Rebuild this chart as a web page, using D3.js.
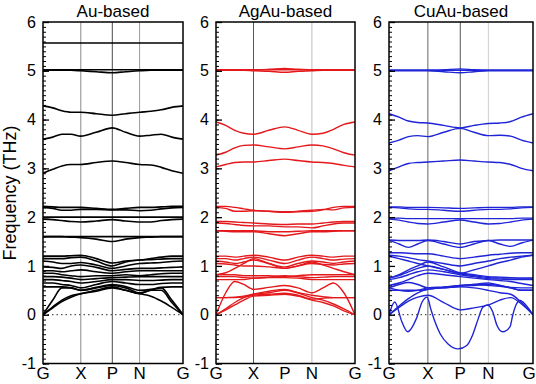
<!DOCTYPE html>
<html>
<head>
<meta charset="utf-8">
<script src="https://cdn.jsdelivr.net/npm/d3@7"></script>
<style>
  body { margin: 0; background: #fff; }
  svg { display: block; font-family: "Liberation Sans", Arial, sans-serif; }
</style>
</head>
<body>
<div id="chart"></div>
<script>
// k-path sample points (fraction of path G-X-P-N-G)
const kPath = [0, 0.07, 0.135, 0.2, 0.27, 0.38, 0.495, 0.59, 0.69, 0.77, 0.845, 0.92, 1];
const symLabels = ['G', 'X', 'P', 'N', 'G'];
const symK = [0, 0.27, 0.495, 0.69, 1];
const yTicks = [-1, 0, 1, 2, 3, 4, 5, 6];
const titles = ['Au-based', 'AgAu-based', 'CuAu-based'];

// phonon bands (THz) at kPath points
const auBands = [
  [5.57,5.57,5.57,5.57,5.57,5.57,5.57,5.57,5.57,5.57,5.57,5.57,5.57],
  [5.02,5.02,5.02,5.02,5.02,5.02,5.02,5.02,5.02,5.02,5.02,5.02,5.02],
  [5.01,5.01,5.01,5.01,5.0,4.98,4.96,4.98,5.0,5.01,5.01,5.01,5.01],
  [4.28,4.24,4.18,4.15,4.15,4.12,4.09,4.12,4.15,4.17,4.2,4.25,4.28],
  [3.6,3.64,3.7,3.7,3.66,3.74,3.83,3.74,3.66,3.68,3.7,3.64,3.6],
  [2.9,2.98,3.05,3.08,3.08,3.12,3.15,3.12,3.08,3.07,3.02,2.95,2.9],
  [2.22,2.21,2.2,2.2,2.2,2.18,2.16,2.18,2.2,2.2,2.21,2.22,2.22],
  [2.2,2.18,2.14,2.14,2.16,2.16,2.15,2.15,2.13,2.14,2.17,2.19,2.2],
  [2.0,2.0,2.0,2.0,2.0,2.0,2.0,2.0,2.0,2.0,2.0,2.0,2.0],
  [1.96,1.95,1.93,1.91,1.9,1.92,1.95,1.92,1.9,1.9,1.93,1.95,1.96],
  [1.6,1.6,1.6,1.6,1.6,1.6,1.6,1.6,1.6,1.6,1.6,1.6,1.6],
  [1.6,1.6,1.6,1.59,1.58,1.55,1.5,1.55,1.58,1.59,1.6,1.6,1.6],
  [1.2,1.2,1.2,1.21,1.22,1.15,1.06,1.1,1.12,1.15,1.18,1.2,1.2],
  [1.15,1.15,1.15,1.17,1.18,1.1,1.0,1.08,1.12,1.13,1.14,1.15,1.15],
  [1.1,1.08,1.05,1.05,1.07,1.02,0.95,1.0,1.05,1.06,1.07,1.09,1.1],
  [0.98,0.97,0.95,1.0,1.02,0.97,0.9,0.93,0.95,0.95,0.96,0.97,0.98],
  [0.9,0.9,0.88,0.9,0.92,0.88,0.85,0.88,0.9,0.9,0.9,0.9,0.9],
  [0.85,0.85,0.82,0.8,0.78,0.8,0.8,0.82,0.8,0.82,0.84,0.85,0.85],
  [0.78,0.78,0.77,0.75,0.72,0.74,0.76,0.77,0.78,0.78,0.78,0.78,0.78],
  [0.72,0.72,0.7,0.68,0.65,0.68,0.72,0.72,0.7,0.7,0.71,0.72,0.72],
  [0.65,0.65,0.62,0.6,0.55,0.62,0.68,0.65,0.62,0.62,0.64,0.65,0.65],
  [0.57,0.57,0.57,0.55,0.5,0.56,0.62,0.58,0.5,0.52,0.56,0.57,0.57],
  [0,0.3,0.55,0.55,0.5,0.55,0.6,0.55,0.45,0.5,0.55,0.3,0],
  [0,0.16,0.3,0.39,0.43,0.5,0.57,0.5,0.43,0.38,0.28,0.15,0],
  [0,0.14,0.27,0.36,0.43,0.48,0.55,0.5,0.43,0.5,0.5,0.25,0]
];

const agauBands = [
  [5.02,5.02,5.02,5.02,5.02,5.02,5.02,5.02,5.02,5.02,5.02,5.02,5.02],
  [5.02,5.02,5.02,5.02,5.02,5.03,5.05,5.03,5.02,5.02,5.02,5.02,5.02],
  [5.01,5.01,5.01,5.01,5.0,4.99,4.97,4.99,5.0,5.01,5.01,5.01,5.01],
  [3.95,3.88,3.78,3.72,3.7,3.78,3.85,3.78,3.7,3.72,3.8,3.9,3.95],
  [3.27,3.33,3.42,3.47,3.48,3.44,3.4,3.44,3.48,3.46,3.4,3.32,3.27],
  [3.03,3.08,3.12,3.13,3.13,3.16,3.19,3.16,3.13,3.12,3.1,3.06,3.03],
  [2.22,2.22,2.2,2.17,2.14,2.12,2.1,2.11,2.12,2.15,2.2,2.22,2.22],
  [2.2,2.18,2.12,2.12,2.13,2.12,2.11,2.12,2.14,2.16,2.15,2.19,2.2],
  [1.91,1.91,1.9,1.89,1.88,1.86,1.85,1.86,1.86,1.88,1.9,1.91,1.91],
  [1.88,1.87,1.85,1.83,1.82,1.82,1.8,1.8,1.78,1.82,1.86,1.88,1.88],
  [1.72,1.72,1.72,1.72,1.72,1.7,1.7,1.71,1.72,1.72,1.72,1.72,1.72],
  [1.72,1.71,1.7,1.7,1.7,1.66,1.62,1.66,1.7,1.7,1.71,1.72,1.72],
  [1.2,1.2,1.18,1.2,1.22,1.18,1.12,1.18,1.22,1.2,1.18,1.2,1.2],
  [1.15,1.15,1.12,1.15,1.18,1.12,1.05,1.12,1.18,1.15,1.12,1.14,1.15],
  [1.1,1.08,1.05,1.08,1.12,1.05,0.98,1.05,1.1,1.08,1.05,1.08,1.1],
  [1.05,1.04,1.02,1.0,1.0,0.98,0.95,1.0,1.05,1.03,1.02,1.04,1.05],
  [0.82,0.86,0.95,1.05,1.15,1.05,0.95,1.0,1.08,1.02,0.95,0.88,0.82],
  [0.82,0.82,0.82,0.8,0.8,0.8,0.78,0.8,0.82,0.82,0.82,0.82,0.82],
  [0.78,0.78,0.78,0.76,0.75,0.77,0.8,0.78,0.76,0.77,0.78,0.78,0.78],
  [0.72,0.72,0.72,0.72,0.75,0.76,0.76,0.75,0.72,0.72,0.72,0.72,0.72],
  [0,0.45,0.68,0.62,0.52,0.56,0.6,0.55,0.45,0.55,0.65,0.45,0],
  [0.35,0.35,0.36,0.38,0.42,0.45,0.5,0.45,0.4,0.37,0.35,0.35,0.35],
  [0.35,0.35,0.35,0.36,0.4,0.42,0.44,0.4,0.32,0.34,0.35,0.35,0.35],
  [0,0.12,0.25,0.35,0.42,0.48,0.52,0.45,0.35,0.3,0.22,0.12,0],
  [0,0.1,0.2,0.3,0.38,0.4,0.42,0.38,0.3,0.25,0.18,0.08,0]
];

const cuauBands = [
  [5.01,5.01,5.01,5.01,5.01,5.01,5.01,5.01,5.01,5.01,5.01,5.01,5.01],
  [5.01,5.01,5.01,5.01,5.01,5.02,5.04,5.02,5.01,5.01,5.01,5.01,5.01],
  [5.0,5.0,5.0,5.0,5.0,4.98,4.96,4.98,5.0,5.0,5.0,5.0,5.0],
  [4.12,4.05,3.97,3.94,3.93,3.88,3.83,3.88,3.92,3.93,3.96,4.05,4.12],
  [3.52,3.58,3.65,3.67,3.65,3.74,3.82,3.74,3.67,3.68,3.66,3.58,3.52],
  [2.95,3.03,3.1,3.12,3.13,3.15,3.17,3.15,3.13,3.12,3.08,3.0,2.95],
  [2.21,2.21,2.2,2.2,2.2,2.19,2.18,2.19,2.2,2.2,2.2,2.21,2.21],
  [2.2,2.19,2.17,2.16,2.16,2.14,2.12,2.14,2.16,2.16,2.17,2.19,2.2],
  [1.98,1.98,1.97,1.97,1.97,1.97,1.97,1.97,1.97,1.97,1.97,1.98,1.98],
  [1.96,1.94,1.9,1.87,1.86,1.9,1.94,1.9,1.86,1.87,1.9,1.94,1.96],
  [1.53,1.52,1.52,1.52,1.53,1.5,1.45,1.5,1.52,1.53,1.53,1.53,1.53],
  [1.53,1.45,1.38,1.45,1.52,1.45,1.38,1.45,1.52,1.45,1.4,1.47,1.53],
  [1.27,1.27,1.26,1.25,1.25,1.2,1.15,1.18,1.22,1.24,1.26,1.27,1.27],
  [1.22,1.2,1.17,1.13,1.1,1.05,1.0,1.05,1.1,1.15,1.18,1.2,1.22],
  [1.2,1.15,1.1,1.05,1.0,0.93,0.85,0.92,1.0,1.07,1.12,1.18,1.22],
  [0.75,0.82,0.92,1.0,1.08,0.98,0.86,0.82,0.78,0.77,0.76,0.75,0.75],
  [0.75,0.8,0.88,0.95,1.0,0.93,0.84,0.8,0.76,0.75,0.75,0.75,0.75],
  [0.72,0.76,0.82,0.88,0.92,0.88,0.82,0.78,0.74,0.73,0.72,0.72,0.72],
  [0.6,0.65,0.72,0.8,0.85,0.82,0.78,0.75,0.72,0.7,0.68,0.64,0.6],
  [0.55,0.62,0.66,0.62,0.55,0.55,0.58,0.6,0.62,0.6,0.56,0.55,0.55],
  [0.55,0.5,0.48,0.5,0.55,0.57,0.6,0.62,0.6,0.58,0.55,0.5,0.5],
  [0.5,0.5,0.5,0.5,0.52,0.56,0.6,0.62,0.65,0.6,0.55,0.5,0.5],
  [0,0.15,0.28,0.36,0.4,0.25,0.1,0.14,0.2,0.3,0.35,0.22,0],
  [0,0.18,0.33,0.45,0.52,0.55,0.57,0.55,0.5,0.45,0.42,0.25,0]
];

// soft (imaginary) mode of CuAu, sampled on its own finer k grid
const cuauSoftK = [0, 0.04, 0.09, 0.13, 0.19, 0.23, 0.265, 0.29, 0.32, 0.355, 0.41, 0.48, 0.54, 0.58, 0.62, 0.65, 0.685, 0.72, 0.75, 0.79, 0.84, 0.86, 0.885, 0.91, 0.95, 1];
const cuauSoftF = [0, 0.26, -0.15, -0.35, -0.08, 0.26, 0.36, 0.12, -0.15, -0.39, -0.6, -0.7, -0.63, -0.42, -0.08, 0.15, 0.2, 0.06, -0.22, -0.35, -0.25, 0, 0.22, 0.29, 0.2, 0];

const width = 536;
const height = 384;

const panels = [
  { x0: 43, x1: 183, bands: auBands, color: '#000', lineW: 1.6,
    sym: [null, '#8a8a8a', '#4a4a4a', '#9a9a9a', null] },
  { x0: 216, x1: 355, bands: agauBands, color: '#e4191c', lineW: 1.4,
    sym: [null, '#555', null, '#bdbdbd', null] },
  { x0: 389, x1: 533, bands: cuauBands, color: '#1f24d6', lineW: 1.4,
    sym: [null, '#666', '#555', '#cfcfcf', null],
    soft: { k: cuauSoftK, f: cuauSoftF } }
];

const svg = d3.select('#chart')
              .append('svg')
              .attr('width', width)
              .attr('height', height);

const yScale = d3.scaleLinear()
                 .domain([-1, 6])
                 .range([363.5, 22]);

svg.append('text')
   .attr('transform', 'translate(16,' + 193 + ') rotate(-90)')
   .attr('text-anchor', 'middle')
   .attr('font-size', 18)
   .text('Frequency (THz)');

panels.forEach((p, i) => {
  const xScale = d3.scaleLinear()
                   .domain([0, 1])
                   .range([p.x0, p.x1]);

  const g = svg.append('g');

  g.append('clipPath')
   .attr('id', 'clip' + i)
   .append('rect')
   .attr('x', p.x0)
   .attr('y', yScale(6))
   .attr('width', p.x1 - p.x0)
   .attr('height', yScale(-1) - yScale(6));

  // high-symmetry lines
  symK.forEach((k, j) => {
    if (!p.sym[j]) return;
    g.append('line')
     .attr('x1', xScale(k)).attr('x2', xScale(k))
     .attr('y1', yScale(6)).attr('y2', yScale(-1))
     .attr('stroke', p.sym[j])
     .attr('stroke-width', 1);
  });

  // zero line
  g.append('line')
   .attr('x1', p.x0).attr('x2', p.x1)
   .attr('y1', yScale(0)).attr('y2', yScale(0))
   .attr('stroke', '#555')
   .attr('stroke-width', 1.2)
   .attr('stroke-dasharray', '1.5,3');

  const line = d3.line()
                 .x((d) => xScale(d[0]))
                 .y((d) => yScale(d[1]))
                 .curve(d3.curveMonotoneX);

  const bandsG = g.append('g').attr('clip-path', 'url(#clip' + i + ')');

  bandsG.selectAll('path.band')
        .data(p.bands)
        .enter()
        .append('path')
        .attr('class', 'band')
        .attr('d', (b) => line(b.map((v, j) => [kPath[j], v])))
        .attr('fill', 'none')
        .attr('stroke', p.color)
        .attr('stroke-width', p.lineW);

  if (p.soft) {
    bandsG.append('path')
          .attr('d', line(p.soft.k.map((k, j) => [k, p.soft.f[j]])))
          .attr('fill', 'none')
          .attr('stroke', p.color)
          .attr('stroke-width', p.lineW);
  }

  // y axis: major and minor ticks pointing inward
  const minor = d3.axisLeft(yScale)
                  .tickValues(d3.range(-10, 61).map((d) => d / 10))
                  .tickSizeInner(-3)
                  .tickSizeOuter(0)
                  .tickFormat('');
  g.append('g')
   .attr('transform', 'translate(' + p.x0 + ',0)')
   .call(minor)
   .call((a) => a.select('.domain').remove())
   .selectAll('line').attr('stroke-width', 1);

  const major = d3.axisLeft(yScale)
                  .tickValues(yTicks)
                  .tickSizeInner(-6)
                  .tickSizeOuter(0)
                  .tickPadding(7)
                  .tickFormat(d3.format('d'));
  const ax = g.append('g')
              .attr('transform', 'translate(' + p.x0 + ',0)')
              .call(major);
  ax.select('.domain').remove();
  ax.selectAll('line').attr('stroke-width', 1.3);
  ax.selectAll('text')
    .attr('font-size', 16)
    .attr('font-family', '"Liberation Sans", Arial, sans-serif')
    .attr('fill', '#000')
    .text((d) => d < 0 ? '-' + Math.abs(d) : d);

  // frame
  g.append('rect')
   .attr('x', p.x0)
   .attr('y', yScale(6))
   .attr('width', p.x1 - p.x0)
   .attr('height', yScale(-1) - yScale(6))
   .attr('fill', 'none')
   .attr('stroke', '#000')
   .attr('stroke-width', 1.5);

  // k-point labels
  g.selectAll('text.sym')
   .data(symLabels)
   .enter()
   .append('text')
   .attr('class', 'sym')
   .attr('x', (d, j) => Math.min(xScale(symK[j]), width - 7))
   .attr('y', 379)
   .attr('text-anchor', 'middle')
   .attr('font-size', 17)
   .text((d) => d);

  // title
  g.append('text')
   .attr('x', (p.x0 + p.x1) / 2)
   .attr('y', 17)
   .attr('text-anchor', 'middle')
   .attr('font-size', 17)
   .text(titles[i]);
});
</script>
</body>
</html>
